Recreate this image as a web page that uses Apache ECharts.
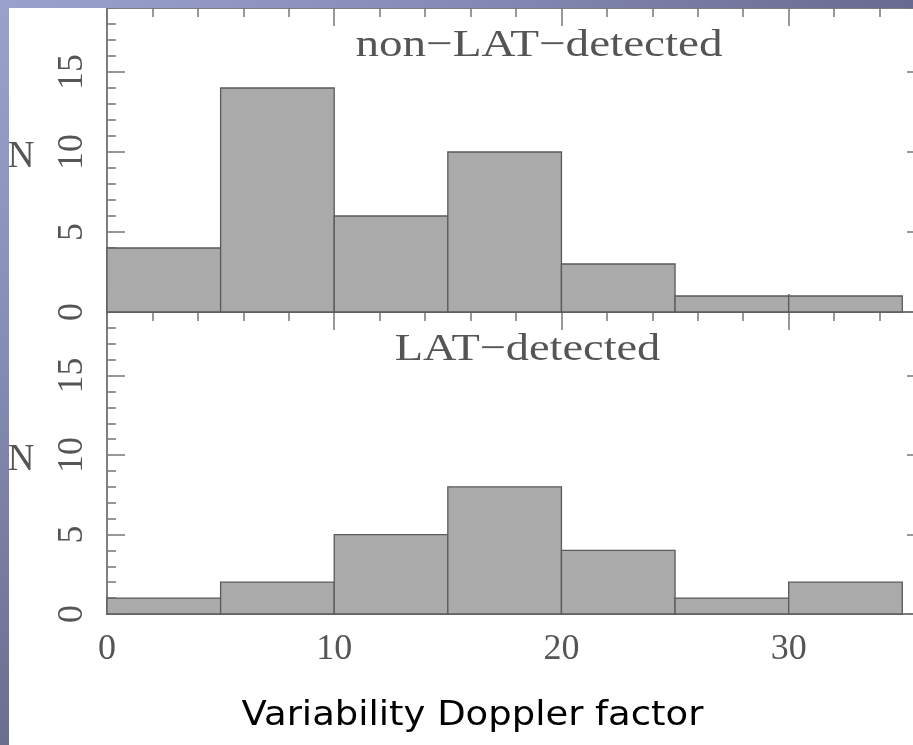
<!DOCTYPE html>
<html>
<head>
<meta charset="utf-8">
<script src="https://cdn.jsdelivr.net/npm/echarts@6.0.0/dist/echarts.min.js"></script>
<style>
  html, body { margin: 0; padding: 0; background: #ffffff; }
  #chart { width: 913px; height: 745px; }
</style>
</head>
<body>
<div id="chart"></div>
<script>
// ---- data ----
const binEdges = [0, 5, 10, 15, 20, 25, 30, 35];
const nonLatCounts = [4, 14, 6, 10, 3, 1, 1];
const latCounts = [1, 2, 5, 8, 4, 1, 2];
const panelTitles = ['non\u2212LAT\u2212detected', 'LAT\u2212detected'];
const xTitle = 'Variability Doppler factor';
const yTitle = 'N';

const xRange = [0, 36];
const yRange = [0, 19];

function bins(counts) {
  return counts.map((c, i) => [binEdges[i], binEdges[i + 1], c]);
}

const axisColor = '#777777';
const labelFont = 'Liberation Serif';
const labelColor = '#555555';

function xAx(grid, pos, major, labels) {
  return {
    type: 'value', gridIndex: grid, position: pos,
    min: xRange[0], max: xRange[1], interval: major ? 10 : 2,
    axisLine: { show: true, onZero: false, lineStyle: { color: axisColor, width: 1.5 } },
    axisTick: { show: true, inside: true, length: major ? 18 : 9, lineStyle: { color: axisColor, width: 1.5 } },
    axisLabel: {
      show: labels, showMaxLabel: false, margin: 18,
      fontFamily: labelFont, fontSize: 36, color: labelColor
    },
    splitLine: { show: false }
  };
}
function yAx(grid, pos, major, labels) {
  return {
    type: 'value', gridIndex: grid, position: pos,
    min: yRange[0], max: yRange[1], interval: major ? 5 : 1,
    axisLine: { show: true, onZero: false, lineStyle: { color: axisColor, width: 1.5 } },
    axisTick: { show: true, inside: true, length: major ? 18 : 9, lineStyle: { color: axisColor, width: 1.5 } },
    axisLabel: {
      show: labels, showMaxLabel: false, rotate: 90, margin: 16,
      fontFamily: labelFont, fontSize: 36, color: labelColor
    },
    splitLine: { show: false }
  };
}

function renderBar(params, api) {
  const x0 = api.value(0), x1 = api.value(1), n = api.value(2);
  const p0 = api.coord([x0, n]);
  const p1 = api.coord([x1, 0]);
  return {
    type: 'rect',
    shape: { x: p0[0], y: p0[1], width: p1[0] - p0[0], height: p1[1] - p0[1] },
    style: { fill: '#aaaaaa', stroke: '#5a5a5a', lineWidth: 1.3 }
  };
}

const chart = echarts.init(document.getElementById('chart'), null, { renderer: 'canvas' });

const option = {
  animation: false,
  backgroundColor: '#ffffff',
  grid: [
    { left: 107, top: 8, width: 818, height: 304, containLabel: false, outerBoundsMode: 'none' },
    { left: 107, top: 312, width: 818, height: 302, containLabel: false, outerBoundsMode: 'none' }
  ],
  xAxis: [
    xAx(0, 'bottom', true, false), xAx(0, 'bottom', false, false),
    xAx(0, 'top', true, false), xAx(0, 'top', false, false),
    xAx(1, 'bottom', true, true), xAx(1, 'bottom', false, false),
    xAx(1, 'top', true, false), xAx(1, 'top', false, false)
  ],
  yAxis: [
    yAx(0, 'left', true, true), yAx(0, 'left', false, false),
    yAx(0, 'right', true, false), yAx(0, 'right', false, false),
    yAx(1, 'left', true, true), yAx(1, 'left', false, false),
    yAx(1, 'right', true, false), yAx(1, 'right', false, false)
  ],
  series: [
    {
      type: 'custom', xAxisIndex: 0, yAxisIndex: 0,
      renderItem: renderBar, encode: { x: [0, 1], y: 2 },
      data: bins(nonLatCounts), z: 1
    },
    {
      type: 'custom', xAxisIndex: 4, yAxisIndex: 4,
      renderItem: renderBar, encode: { x: [0, 1], y: 2 },
      data: bins(latCounts), z: 1
    }
  ],
  graphic: [
    {
      type: 'text', x: 539, y: 46, scaleX: 1.24, z: 50,
      style: { text: panelTitles[0], fontFamily: labelFont, fontSize: 38, fill: labelColor, align: 'center', verticalAlign: 'middle' }
    },
    {
      type: 'text', x: 527.5, y: 350, scaleX: 1.22, z: 50,
      style: { text: panelTitles[1], fontFamily: labelFont, fontSize: 38, fill: labelColor, align: 'center', verticalAlign: 'middle' }
    },
    {
      type: 'text', x: 21, y: 157, z: 50,
      style: { text: yTitle, fontFamily: labelFont, fontSize: 37, fill: labelColor, align: 'center', verticalAlign: 'middle' }
    },
    {
      type: 'text', x: 21, y: 460, z: 50,
      style: { text: yTitle, fontFamily: labelFont, fontSize: 37, fill: labelColor, align: 'center', verticalAlign: 'middle' }
    },
    {
      type: 'text', x: 472.5, y: 716, scaleX: 1.12, z: 50,
      style: { text: xTitle, fontFamily: 'DejaVu Sans', fontSize: 33, fill: '#000000', align: 'center', verticalAlign: 'middle' }
    },
    {
      type: 'rect', z: 100, shape: { x: 0, y: 0, width: 9, height: 745 },
      style: { fill: { type: 'linear', x: 0, y: 0, x2: 0, y2: 1, colorStops: [
        { offset: 0, color: '#9aa2cc' }, { offset: 0.45, color: '#878db6' }, { offset: 1, color: '#6c6e8e' }
      ] } }
    },
    {
      type: 'rect', z: 100, shape: { x: 0, y: 0, width: 913, height: 8 },
      style: { fill: { type: 'linear', x: 0, y: 0, x2: 1, y2: 0, colorStops: [
        { offset: 0, color: '#9aa2cc' }, { offset: 0.5, color: '#868bb6' }, { offset: 1, color: '#686b90' }
      ] } }
    }
  ]
};

chart.setOption(option);
</script>
</body>
</html>
